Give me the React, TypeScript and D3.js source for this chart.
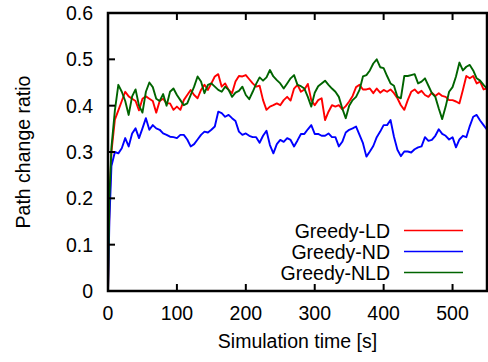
import React from "react";
import * as d3 from "d3";

const times = [0, 2, 5, 10, 15, 20, 25, 30, 35, 40, 45, 50, 55, 60, 65, 70, 75, 80, 85, 90, 95, 100, 105, 110, 115, 120, 125, 130, 135, 140, 145, 150, 155, 160, 165, 170, 175, 180, 185, 190, 195, 200, 205, 210, 215, 220, 225, 230, 235, 240, 245, 250, 255, 260, 265, 270, 275, 280, 285, 290, 295, 300, 305, 310, 315, 320, 325, 330, 335, 340, 345, 350, 355, 360, 365, 370, 375, 380, 385, 390, 395, 400, 405, 410, 415, 420, 425, 430, 435, 440, 445, 450, 455, 460, 465, 470, 475, 480, 485, 490, 495, 500, 505, 510, 515, 520, 525, 530, 535, 540, 545, 550];

const greedyLD = [0, 0.18, 0.30, 0.37, 0.39, 0.41, 0.43, 0.42, 0.415, 0.41, 0.39, 0.415, 0.42, 0.415, 0.41, 0.385, 0.41, 0.415, 0.405, 0.405, 0.391, 0.398, 0.391, 0.412, 0.423, 0.434, 0.423, 0.416, 0.434, 0.445, 0.434, 0.448, 0.463, 0.468, 0.441, 0.448, 0.434, 0.427, 0.452, 0.464, 0.463, 0.466, 0.457, 0.448, 0.441, 0.443, 0.412, 0.391, 0.398, 0.401, 0.405, 0.401, 0.412, 0.419, 0.411, 0.437, 0.445, 0.430, 0.435, 0.447, 0.412, 0.401, 0.412, 0.416, 0.369, 0.387, 0.401, 0.398, 0.401, 0.392, 0.399, 0.409, 0.421, 0.440, 0.445, 0.435, 0.435, 0.437, 0.427, 0.437, 0.428, 0.434, 0.430, 0.435, 0.427, 0.416, 0.401, 0.391, 0.412, 0.430, 0.435, 0.427, 0.432, 0.423, 0.419, 0.428, 0.421, 0.427, 0.421, 0.419, 0.412, 0.412, 0.409, 0.405, 0.434, 0.464, 0.459, 0.464, 0.448, 0.452, 0.435, 0.437];

const greedyND = [0, 0.15, 0.27, 0.30, 0.297, 0.308, 0.33, 0.312, 0.34, 0.351, 0.33, 0.351, 0.373, 0.348, 0.358, 0.351, 0.348, 0.34, 0.337, 0.333, 0.332, 0.330, 0.337, 0.337, 0.327, 0.312, 0.317, 0.327, 0.337, 0.344, 0.342, 0.348, 0.355, 0.387, 0.384, 0.376, 0.380, 0.373, 0.367, 0.344, 0.337, 0.340, 0.335, 0.332, 0.332, 0.320, 0.335, 0.346, 0.315, 0.297, 0.317, 0.326, 0.322, 0.330, 0.326, 0.312, 0.325, 0.339, 0.339, 0.349, 0.358, 0.339, 0.339, 0.335, 0.335, 0.340, 0.332, 0.332, 0.312, 0.322, 0.342, 0.348, 0.351, 0.355, 0.337, 0.319, 0.290, 0.301, 0.313, 0.332, 0.344, 0.358, 0.358, 0.369, 0.333, 0.305, 0.291, 0.301, 0.301, 0.299, 0.306, 0.310, 0.312, 0.332, 0.324, 0.326, 0.335, 0.349, 0.339, 0.335, 0.327, 0.332, 0.310, 0.327, 0.335, 0.332, 0.356, 0.376, 0.380, 0.368, 0.358, 0.348];

const greedyNLD = [0, 0.20, 0.31, 0.39, 0.445, 0.43, 0.41, 0.38, 0.42, 0.435, 0.40, 0.385, 0.43, 0.45, 0.44, 0.415, 0.41, 0.425, 0.40, 0.43, 0.437, 0.423, 0.412, 0.401, 0.405, 0.423, 0.441, 0.463, 0.452, 0.427, 0.445, 0.448, 0.441, 0.434, 0.430, 0.441, 0.434, 0.419, 0.428, 0.432, 0.441, 0.423, 0.414, 0.430, 0.447, 0.461, 0.454, 0.461, 0.477, 0.463, 0.455, 0.448, 0.437, 0.448, 0.459, 0.466, 0.445, 0.442, 0.437, 0.419, 0.398, 0.428, 0.442, 0.448, 0.454, 0.445, 0.437, 0.430, 0.419, 0.394, 0.373, 0.400, 0.412, 0.419, 0.434, 0.463, 0.466, 0.476, 0.491, 0.500, 0.483, 0.481, 0.464, 0.448, 0.443, 0.419, 0.416, 0.464, 0.464, 0.466, 0.468, 0.448, 0.452, 0.459, 0.443, 0.427, 0.419, 0.394, 0.371, 0.398, 0.430, 0.440, 0.463, 0.493, 0.476, 0.484, 0.488, 0.476, 0.459, 0.454, 0.445, 0.437];

const seriesNames = ["Greedy-LD", "Greedy-ND", "Greedy-NLD"];
const seriesColors = ["#ff0000", "#0000ff", "#006400"];
const xTicks = [0, 100, 200, 300, 400, 500];
const yTicks = [0, 0.1, 0.2, 0.3, 0.4, 0.5, 0.6];

const W = 488;
const H = 362;
const FONT = "'Liberation Sans', Arial, Helvetica, sans-serif";
const FS = 19.5;

export default function App() {
  const x = d3.scaleLinear().domain([0, 550]).range([108, 487]);
  const y = d3.scaleLinear().domain([0, 0.6]).range([291, 13]);
  const all = [greedyLD, greedyND, greedyNLD];
  const line = d3
    .line<number>()
    .x((_, i) => x(times[i]))
    .y((d) => y(d));
  const [x0, x1] = x.range();
  const [y0, y1] = y.range();
  const legendRows = [230.5, 251.5, 272.5];

  return (
    <svg
      width={W}
      height={H}
      style={{ position: "absolute", left: 0, top: 0, background: "#fff" }}
      fontFamily={FONT}
    >
      <rect x={0} y={0} width={W} height={H} fill="#fff" />
      <defs>
        <clipPath id="plot">
          <rect x={x0} y={y1} width={x1 - x0} height={y0 - y1} />
        </clipPath>
      </defs>
      <g clipPath="url(#plot)">
        {all.map((s, k) => (
          <path
            key={k}
            d={line(s) || ""}
            fill="none"
            stroke={seriesColors[k]}
            strokeWidth={1.9}
            strokeLinejoin="round"
          />
        ))}
      </g>
      {xTicks.map((t) => (
        <g key={"x" + t}>
          <line x1={x(t)} x2={x(t)} y1={y0} y2={y0 - 7} stroke="#000" strokeWidth={2} />
          <line x1={x(t)} x2={x(t)} y1={y1} y2={y1 + 7} stroke="#000" strokeWidth={2} />
          <text x={x(t)} y={320} fontSize={FS} textAnchor="middle" fill="#000">
            {t}
          </text>
        </g>
      ))}
      {yTicks.map((t) => (
        <g key={"y" + t}>
          <line x1={x0} x2={x0 + 7} y1={y(t)} y2={y(t)} stroke="#000" strokeWidth={2} />
          <text x={93} y={y(t) + 7} fontSize={FS} textAnchor="end" fill="#000">
            {t === 0 ? "0" : t.toFixed(1)}
          </text>
        </g>
      ))}
      <rect
        x={x0}
        y={y1}
        width={x1 - x0}
        height={y0 - y1}
        fill="none"
        stroke="#000"
        strokeWidth={2.5}
      />
      {seriesNames.map((n, k) => (
        <g key={n}>
          <text x={390} y={legendRows[k] + 7} fontSize={FS} textAnchor="end" fill="#000">
            {n}
          </text>
          <line
            x1={404}
            x2={463}
            y1={legendRows[k]}
            y2={legendRows[k]}
            stroke={seriesColors[k]}
            strokeWidth={1.3}
          />
        </g>
      ))}
      <text x={(x0 + x1) / 2} y={348} fontSize={FS} textAnchor="middle" fill="#000">
        Simulation time [s]
      </text>
      <text
        transform={`translate(30, ${(y0 + y1) / 2}) rotate(-90)`}
        fontSize={FS}
        textAnchor="middle"
        fill="#000"
      >
        Path change ratio
      </text>
    </svg>
  );
}
